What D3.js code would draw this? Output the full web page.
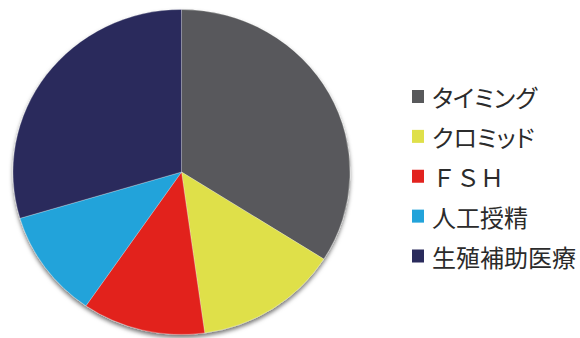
<!DOCTYPE html>
<html>
<head>
<meta charset="utf-8">
<script src="https://cdn.jsdelivr.net/npm/d3@7"></script>
<style>
  body { margin: 0; background: #fff; }
  svg { display: block; }
  .legend text { font-family: "Noto Sans CJK JP", sans-serif; font-size: 24px; fill: #2b2b2b; }
</style>
</head>
<body>
<svg id="chart" width="580" height="338"></svg>
<script>
var categories = ["タイミング", "クロミッド", "ＦＳＨ", "人工授精", "生殖補助医療"];
var values = [34.0, 13.8, 11.8, 10.8, 29.6];
var colors = ["#58595b", "#dfe049", "#e2231f", "#22a3da", "#2a2b5c"];
var proportional = [true, true, false, false, false];

var svg = d3.select("#chart");
var cx = 181.5, cy = 172, rx = 168.5, ry = 162.5;

var defs = svg.append("defs");
var f = defs.append("filter").attr("id", "shadow")
	.attr("x", "-10%").attr("y", "-10%").attr("width", "120%").attr("height", "120%");
f.append("feDropShadow").attr("dx", 0).attr("dy", 3).attr("stdDeviation", 2)
	.attr("flood-color", "#000").attr("flood-opacity", 0.55);

var pie = d3.pie().sort(null).value(function(d) { return d; });
var arc = d3.arc().innerRadius(0).outerRadius(rx);

var g = svg.append("g")
	.attr("transform", "translate(" + cx + "," + cy + ") scale(1," + (ry / rx) + ")")
	.attr("filter", "url(#shadow)");

g.selectAll("path").data(pie(values)).enter().append("path")
	.attr("d", arc)
	.attr("fill", function(d, i) { return colors[i]; })
	.attr("stroke", "rgba(255,255,255,0.45)")
	.attr("stroke-width", 0.6);

var y = d3.scalePoint().domain(categories).range([96.5, 256]);

var legend = svg.append("g").attr("class", "legend");
var row = legend.selectAll("g").data(categories).enter().append("g")
	.attr("transform", function(d) { return "translate(412," + y(d) + ")"; });
row.append("rect")
	.attr("x", 0).attr("y", -6.5).attr("width", 12).attr("height", 13)
	.attr("fill", function(d, i) { return colors[i]; });
row.append("text")
	.attr("x", 20).attr("y", 0)
	.attr("dominant-baseline", "central")
	.style("font-feature-settings", function(d, i) { return proportional[i] ? "'palt'" : "normal"; })
	.text(function(d) { return d; });
</script>
</body>
</html>
